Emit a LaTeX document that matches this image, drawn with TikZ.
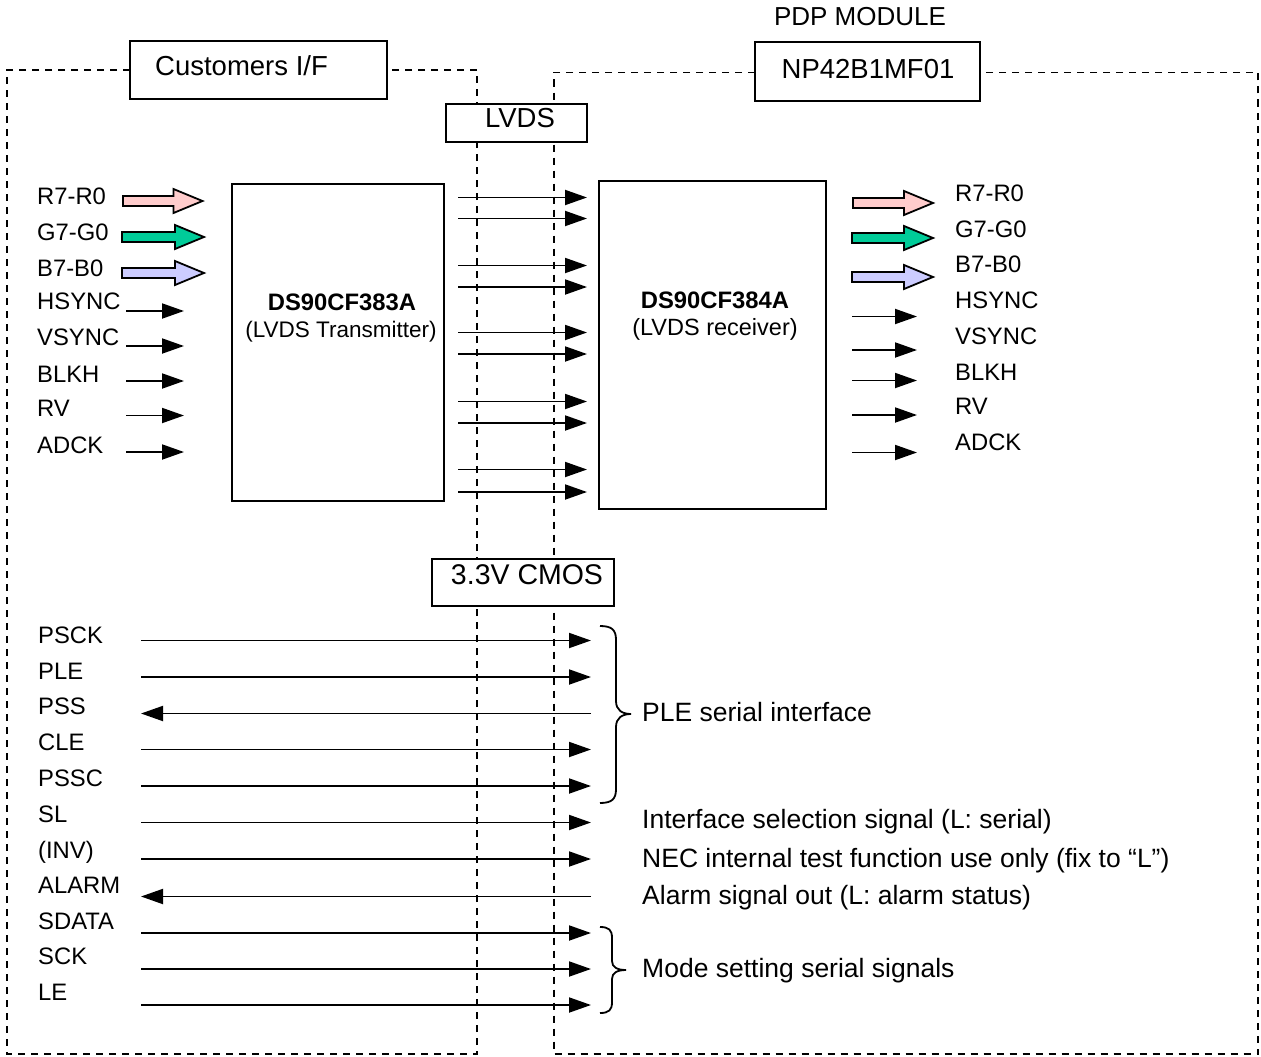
\documentclass[tikz,border=0pt]{standalone}
\usepackage{fontspec}
\setmainfont{Liberation Sans}
\usetikzlibrary{arrows.meta}
\definecolor{rfill}{HTML}{FFCCCC}
\definecolor{gfill}{HTML}{00CC99}
\definecolor{bfill}{HTML}{CCCCFF}
\newcommand\fatarr[4]{%
  \draw[fatstyle, fill=#4] (#1,#3-5) -- (#2-29,#3-5) -- (#2-29,#3-12) -- (#2,#3) -- (#2-29,#3+12) -- (#2-29,#3+5) -- (#1,#3+5) -- cycle;}
\begin{document}
\begin{tikzpicture}[x=1pt,y=-1pt,
  sig/.style={line width=1.9pt, -{Triangle[length=22pt,width=15pt]}},
  bnd/.style={line width=1.8pt, dash pattern=on 7pt off 6pt},
  box/.style={draw, line width=2pt, fill=white, rectangle, inner sep=0pt},
  lab/.style={anchor=base west, inner sep=0pt, font=\fontsize{23.8}{28}\selectfont},
  note/.style={anchor=base west, inner sep=0pt, font=\fontsize{26.5}{31}\selectfont},
  hdr/.style={anchor=base, inner sep=0pt, font=\fontsize{27.5}{32}\selectfont},
  fatstyle/.style={line width=1.8pt, line join=miter}
]
\useasboundingbox (0,0) rectangle (1261,1057);

% dashed boundaries
\draw[bnd] (130,70) -- (7,70) -- (7,1054) -- (477,1054) -- (477,70) -- (386,70);
\draw[bnd] (755,72.5) -- (554,72.5) -- (554,1054) -- (1258,1054) -- (1258,72.5) -- (980,72.5);

% header boxes
\node[box, minimum width=257pt, minimum height=57pt] (cust) at (258,70) {};
\node[hdr, anchor=base west] (custt) at (155,75) {Customers I/F};
\node[box, minimum width=225pt, minimum height=59pt] (np) at (867.5,71.5) {};
\node[hdr] (npt) at (868,78) {NP42B1MF01};
\node[hdr, font=\fontsize{26}{30}\selectfont] (pdp) at (860,26) {PDP MODULE};
\node[box, minimum width=141pt, minimum height=38pt] (lvds) at (516,123) {};
\node[hdr] (lvdst) at (520,127) {LVDS};
\node[box, minimum width=182pt, minimum height=47pt] (cmos) at (523,582.5) {};
\node[hdr, font=\fontsize{28.5}{32}\selectfont] (cmost) at (527,584) {3.3V CMOS};

% chips
\node[box, minimum width=212pt, minimum height=317pt] (tx) at (338,342.5) {};
\node[anchor=base, inner sep=0pt, font=\bfseries\fontsize{23.8}{28}\selectfont] (txn) at (342,310) {DS90CF383A};
\node[anchor=base, inner sep=0pt, font=\fontsize{22.5}{27}\selectfont] (txd) at (341,337) {(LVDS Transmitter)};
\node[box, minimum width=227pt, minimum height=328pt] (rx) at (712.5,345) {};
\node[anchor=base, inner sep=0pt, font=\bfseries\fontsize{23.8}{28}\selectfont] (rxn) at (715,308) {DS90CF384A};
\node[anchor=base, inner sep=0pt, font=\fontsize{23.5}{28}\selectfont] (rxd) at (715,335) {(LVDS receiver)};

% left input labels
\foreach \t/\y [count=\i] in {R7-R0/204, G7-G0/240, B7-B0/276.5, HSYNC/309.5, VSYNC/345.5, BLKH/382, RV/416.5, ADCK/453.5}
  \node[lab] (inl\i) at (37,\y) {\t};
% right output labels
\foreach \t/\y [count=\i] in {R7-R0/201.5, G7-G0/237, B7-B0/272.5, HSYNC/308, VSYNC/344, BLKH/380, RV/414.5, ADCK/450}
  \node[lab] (outl\i) at (955,\y) {\t};

% fat arrows
\fatarr{123}{202.5}{201}{rfill}
\fatarr{122}{204}{237}{gfill}
\fatarr{122}{204}{273}{bfill}
\fatarr{853}{933}{203}{rfill}
\fatarr{852}{933}{238}{gfill}
\fatarr{852}{933}{277}{bfill}

% thin input / output arrows
\foreach \y [count=\i] in {311, 346, 381, 415.5, 452}{
  \coordinate (ia\i) at (126,\y); \coordinate (ib\i) at (184,\y);
  \draw[sig] (ia\i) -- (ib\i);}
\foreach \y [count=\i] in {316.5, 350, 380.5, 415, 452.5}{
  \coordinate (oa\i) at (852,\y); \coordinate (ob\i) at (917,\y);
  \draw[sig] (oa\i) -- (ob\i);}

% LVDS pairs
\foreach \y [count=\i] in {197.5, 218.5, 265.5, 287, 332.5, 354, 401.5, 423, 469.5, 492}{
  \coordinate (la\i) at (458,\y); \coordinate (lb\i) at (587,\y);
  \draw[sig] (la\i) -- (lb\i);}

% bottom labels
\foreach \t/\y [count=\i] in {PSCK/643, PLE/679, PSS/714, CLE/750, PSSC/786, SL/822, (INV)/858, ALARM/893, SDATA/929, SCK/964.5, LE/1000}
  \node[lab] (bl\i) at (38,\y) {\t};

% bottom arrows
\foreach \y [count=\i] in {640.5, 677, 749.5, 786, 822.5, 859, 933, 969, 1005}{
  \coordinate (fa\i) at (141,\y); \coordinate (fb\i) at (591,\y);
  \draw[sig] (fa\i) -- (fb\i);}
\foreach \y [count=\i] in {713.5, 896.5}{
  \coordinate (ra\i) at (591,\y); \coordinate (rb\i) at (141,\y);
  \draw[sig] (ra\i) -- (rb\i);}

% braces
\draw[line width=1.8pt] (600,626) .. controls (612,626) and (616,630) .. (616,640) -- (616,701)
  .. controls (616,710) and (622,714) .. (631,714)
  .. controls (622,714) and (616,718) .. (616,727) -- (616,789)
  .. controls (616,799) and (612,803) .. (600,803);
\draw[line width=1.8pt] (600,927) .. controls (609,927) and (612,930) .. (612,938) -- (612,961)
  .. controls (612,967) and (617,970) .. (626,970)
  .. controls (617,970) and (612,973) .. (612,979) -- (612,1002)
  .. controls (612,1010) and (609,1013) .. (600,1013);

% notes
\node[note] (n1) at (642,721) {PLE serial interface};
\node[note] (n2) at (642,828) {Interface selection signal (L: serial)};
\node[note] (n3) at (642,867) {NEC internal test function use only (fix to “L”)};
\node[note] (n4) at (642,904) {Alarm signal out (L: alarm status)};
\node[note] (n5) at (642,977) {Mode setting serial signals};
\end{tikzpicture}
\end{document}
